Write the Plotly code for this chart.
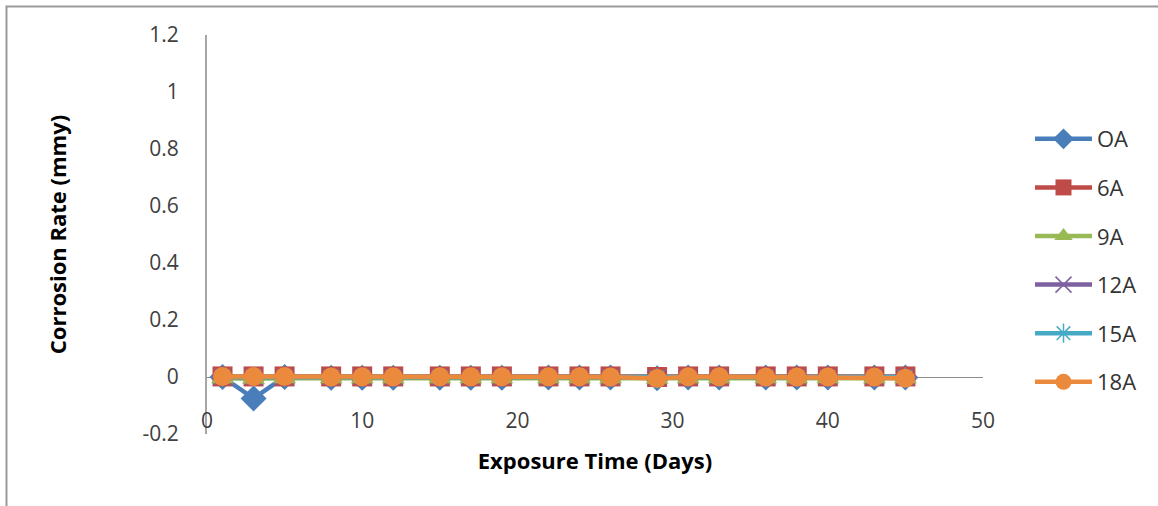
import plotly.graph_objects as go

days = [1, 3, 5, 8, 10, 12, 15, 17, 19, 22, 24, 26, 29, 31, 33, 36, 38, 40, 43, 45]

rate_0A = [0.0, -0.075, 0.0, -0.003, -0.003, -0.003, -0.003, -0.003, -0.003, -0.002,
           -0.002, -0.002, -0.004, -0.002, -0.002, -0.002, -0.002, -0.002, -0.002, -0.002]
rate_6A = [0.002, 0.002, 0.002, 0.002, 0.002, 0.002, 0.002, 0.002, 0.002, 0.002,
           0.002, 0.002, 0.0, 0.002, 0.002, 0.002, 0.002, 0.002, 0.002, 0.002]
rate_9A = [-0.004, -0.006, -0.004, -0.004, -0.004, -0.004, -0.004, -0.004, -0.004, -0.004,
           -0.004, -0.004, -0.006, -0.004, -0.004, -0.004, -0.004, -0.004, -0.004, -0.004]
rate_12A = [0.0, 0.0, 0.0, 0.0, 0.0, 0.0, 0.0, 0.0, 0.0, 0.0,
            0.0, 0.0, -0.003, 0.0, 0.0, 0.0, 0.0, 0.0, 0.0, 0.0]
rate_15A = [0.0, 0.0, 0.0, 0.0, 0.0, 0.0, 0.0, 0.0, 0.0, 0.0,
            0.0, 0.0, -0.003, 0.0, 0.0, 0.0, 0.0, 0.0, 0.0, 0.0]
rate_18A = [0.002, 0.002, 0.002, 0.0, 0.001, 0.001, 0.001, 0.001, 0.001, 0.001,
            0.001, 0.0, -0.005, 0.001, 0.001, 0.0, 0.0, 0.0, 0.0, -0.004]

series_names = ["OA", "6A", "9A", "12A", "15A", "18A"]
series_values = [rate_0A, rate_6A, rate_9A, rate_12A, rate_15A, rate_18A]
colors = ["#4A7EBB", "#BE4B48", "#98B954", "#7D60A0", "#46AAC5", "#EB8A3C"]
symbols = ["diamond", "square", "triangle-up", "x-thin-open", "asterisk-open", "circle"]
sizes = [20, 20, 20, 16, 16, 19]

x_ticks = [0, 10, 20, 30, 40, 50]
y_ticks = [-0.2, 0, 0.2, 0.4, 0.6, 0.8, 1, 1.2]
y_tick_text = ["-0.2", "0", "0.2", "0.4", "0.6", "0.8", "1", "1.2"]

FONT = "Open Sans"

fig = go.Figure()
for name, vals, col, sym, sz in zip(series_names, series_values, colors, symbols, sizes):
    thin = sym in ("x-thin-open", "asterisk-open")
    fig.add_trace(go.Scatter(
        x=days, y=vals, name=name, mode="lines+markers",
        legendgroup=name,
        line=dict(color=col, width=4.5),
        marker=dict(symbol=sym, size=sz, color=col,
                    line=dict(color=("#B8A8D0" if sym == "x-thin-open" else "#8FD0E2") if thin else col,
                              width=(1.5 if thin else 0))),
    ))

L, R, T, B = 207, 983, 35, 434
W, H = 1158, 506

fig.update_layout(
    width=W, height=H,
    margin=dict(l=L, r=W - R, t=T, b=H - B),
    paper_bgcolor="white", plot_bgcolor="white",
    font=dict(family=FONT, size=21, color="#404040"),
    showlegend=True,
    legend=dict(x=(1030 - L) / (R - L), xanchor="left",
                y=(B - 118) / (B - T), yanchor="top",
                font=dict(family=FONT, size=22, color="#333333"),
                tracegroupgap=17, itemwidth=57,
                bgcolor="rgba(0,0,0,0)"),
    xaxis=dict(range=[0, 50], tickvals=x_ticks, ticks="", showline=False,
               showgrid=False, zeroline=False,
               anchor="free", position=(B - 406) / (B - T),
               tickfont=dict(family=FONT, size=21, color="#404040"),
               title=dict(text="<b>Exposure Time (Days)</b>", standoff=20,
                          font=dict(family=FONT, size=22, color="#000000"))),
    yaxis=dict(range=[-0.2, 1.2], tickvals=y_ticks, ticktext=y_tick_text, ticks="",
               showline=True, linecolor="#A6A6A6", linewidth=2,
               showgrid=False, zeroline=True, zerolinecolor="#8C8C8C", zerolinewidth=1,
               ticklabelstandoff=22,
               tickfont=dict(family=FONT, size=21, color="#404040"),
               title=dict(text="<b>Corrosion Rate (mmy)</b>", standoff=70,
                          font=dict(family=FONT, size=22, color="#000000"))),
    shapes=[dict(type="rect", xref="paper", yref="paper",
                 x0=(6.5 - L) / (R - L), x1=(1175 - L) / (R - L),
                 y0=(B - 520) / (B - T), y1=(B - 6.5) / (B - T),
                 line=dict(color="#999999", width=2), fillcolor="rgba(0,0,0,0)",
                 layer="below")],
)

fig.write_html("out.html")
